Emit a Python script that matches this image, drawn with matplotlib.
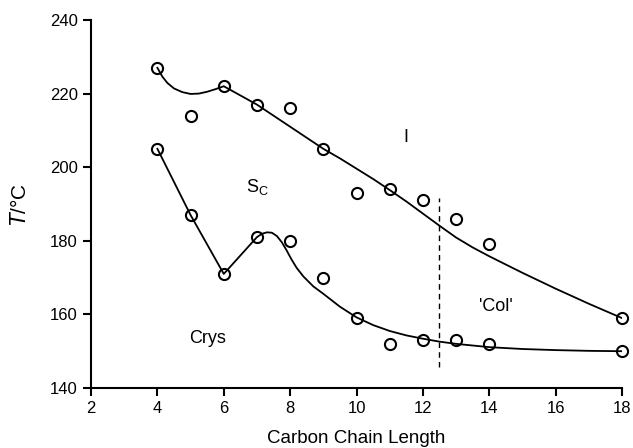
import numpy as np
import matplotlib.pyplot as plt

plt.rcParams['font.family'] = ['Liberation Sans', 'DejaVu Sans']

# measured transition temperatures
chain = [4, 5, 6, 7, 8, 9, 10, 11, 12, 13, 14, 18]
t_upper = [227, 214, 222, 217, 216, 205, 193, 194, 191, 186, 179, 159]
t_lower = [205, 187, 171, 181, 180, 170, 159, 152, 153, 153, 152, 150]

# hand-drawn guide curves
guide_up_x = [4.0, 4.15, 4.3, 4.5, 4.75, 5.0, 5.25, 5.5, 5.75, 6.0, 7.0, 8.0, 9.0,
              9.5, 10.0, 10.5, 11.0, 11.5, 12.0, 12.5, 13.0, 13.5, 14.0, 15.0,
              16.0, 17.0, 18.0]
guide_up_t = [227, 224.6, 222.9, 221.4, 220.4, 219.9, 220.0, 220.5, 221.2, 222.0,
              217, 211, 205, 202.4, 199.6, 196.8, 193.8, 190.7, 187.4, 184.1,
              180.9, 178.2, 175.8, 171.3, 167.0, 162.9, 159]
guide_lo_x = [4.0, 5.0, 6.0, 7.0, 7.15, 7.3, 7.45, 7.6, 7.75, 7.9, 8.05, 8.2, 8.4,
              8.7, 9.0, 9.5, 10.0, 10.5, 11.0, 11.5, 12.0, 12.5, 13.0, 14.0, 15.0,
              16.0, 17.0, 18.0]
guide_lo_t = [205, 187, 171, 181, 181.9, 182.3, 182.2, 181.3, 179.6, 177.3, 174.8,
              172.6, 170.3, 167.6, 165.6, 162.1, 159.2, 157.1, 155.5, 154.3, 153.4,
              152.6, 152.0, 151.1, 150.6, 150.3, 150.1, 150.0]

fig = plt.figure(figsize=(6.33, 4.48), dpi=100)
ax = fig.add_axes([0.1438, 0.1339, 0.8388, 0.8215])

ax.plot(guide_up_x, guide_up_t, color='black', lw=1.3)
ax.plot(guide_lo_x, guide_lo_t, color='black', lw=1.3)
ax.plot(chain, t_upper, 'o', ms=8, mfc='none', mec='black', mew=1.5, clip_on=False)
ax.plot(chain, t_lower, 'o', ms=8, mfc='none', mec='black', mew=1.5, clip_on=False)
ax.plot([12.5, 12.5], [145.8, 191.6], color='black', lw=1.0, ls=(0, (4, 3)))

ax.text(11.5, 208, 'I', fontsize=13, ha='center', va='center')
ax.text(7.0, 194.5, r'S$_\mathregular{C}$', fontsize=13, ha='center', va='center')
ax.text(5.5, 153.5, 'Crys', fontsize=13, ha='center', va='center')
ax.text(14.2, 162.1, "'Col'", fontsize=13, ha='center', va='center')

ax.set_xlim(2, 18)
ax.set_ylim(140, 240)
ax.set_xticks(range(2, 19, 2))
ax.set_yticks(range(140, 241, 20))
ax.spines['top'].set_visible(False)
ax.spines['right'].set_visible(False)
for s in ['left', 'bottom']:
    ax.spines[s].set_linewidth(1.5)
ax.tick_params(direction='out', length=6, width=1.5, labelsize=12)
ax.set_xlabel('Carbon Chain Length', fontsize=13.5, labelpad=10)
ax.set_ylabel(r'$\mathit{T}$/°C', fontsize=15, labelpad=14)

fig.savefig('out.png', dpi=100)
